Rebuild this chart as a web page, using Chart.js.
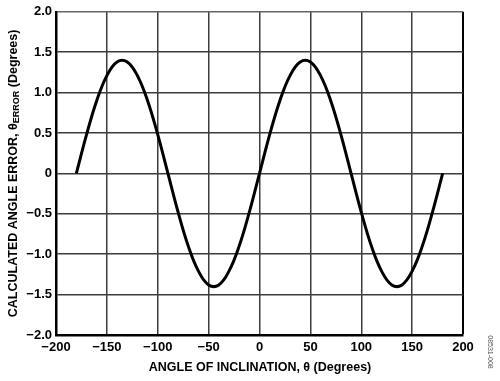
<!DOCTYPE html>
<html>
<head>
<meta charset="utf-8">
<script src="https://cdn.jsdelivr.net/npm/chart.js@4.4.1/dist/chart.umd.min.js"></script>
<style>
  html, body { margin: 0; padding: 0; background: #fff; }
  #wrap { width: 500px; height: 381px; position: relative; }
</style>
</head>
<body>
<div id="wrap"><canvas id="chart" width="500" height="381"></canvas></div>
<script>
// angle of inclination (degrees) and the calculated angle error
const angles = [-180, -170, -160, -150, -140, -130, -120, -110, -100, -90,
                -80, -70, -60, -50, -40, -30, -20, -10, 0,
                10, 20, 30, 40, 50, 60, 70, 80, 90,
                100, 110, 120, 130, 140, 150, 160, 170, 180];
const errors = [0, 0.48, 0.90, 1.21, 1.38, 1.38, 1.21, 0.90, 0.48, 0,
                -0.48, -0.90, -1.21, -1.38, -1.38, -1.21, -0.90, -0.48, 0,
                0.48, 0.90, 1.21, 1.38, 1.38, 1.21, 0.90, 0.48, 0,
                -0.48, -0.90, -1.21, -1.38, -1.38, -1.21, -0.90, -0.48, 0];

const xTicks = [-200, -150, -100, -50, 0, 50, 100, 150, 200];
const yTicks = [-2.0, -1.5, -1.0, -0.5, 0, 0.5, 1.0, 1.5, 2.0];

const FONT = '"Liberation Sans", Arial, sans-serif';

function fmt(v, digits) {
    if (v === 0) return '0';
    const s = Math.abs(v).toFixed(digits);
    return v < 0 ? '\u2212' + s : s;
}

// axis titles, subscript in y title and the figure number
const titles = {
    id: 'titles',
    afterDraw(chart) {
        const ctx = chart.ctx;
        const area = chart.chartArea;
        ctx.save();
        ctx.fillStyle = '#000';
        ctx.textBaseline = 'middle';

        // x title
        ctx.font = 'bold 12.5px ' + FONT;
        ctx.textAlign = 'center';
        ctx.fillText('ANGLE OF INCLINATION, \u03B8 (Degrees)', 260, 368);

        // y title with subscript
        const big = 'bold 12.5px ' + FONT;
        const small = 'bold 9px ' + FONT;
        const parts = [
            ['CALCULATED ANGLE ERROR, \u03B8', big, 0],
            ['ERROR', small, 3],
            [' (Degrees)', big, 0]
        ];
        let total = 0;
        parts.forEach(p => { ctx.font = p[1]; total += ctx.measureText(p[0]).width; });
        ctx.translate(14, (area.top + area.bottom) / 2);
        ctx.rotate(-Math.PI / 2);
        ctx.textAlign = 'left';
        let x = -total / 2;
        parts.forEach(p => {
            ctx.font = p[1];
            ctx.fillText(p[0], x, p[2]);
            x += ctx.measureText(p[0]).width;
        });
        ctx.restore();

        // tiny figure code on the right edge
        ctx.save();
        ctx.fillStyle = '#555';
        ctx.font = '7px ' + FONT;
        ctx.translate(490, 352);
        ctx.rotate(Math.PI / 2);
        ctx.textAlign = 'center';
        ctx.textBaseline = 'middle';
        ctx.fillText('08531-008', 0, 0);
        ctx.restore();
    }
};

new Chart(document.getElementById('chart').getContext('2d'), {
    type: 'line',
    data: {
        datasets: [{
            data: angles.map((a, i) => ({ x: a, y: errors[i] })),
            borderColor: '#000',
            borderWidth: 3,
            pointRadius: 0,
            tension: 0.4,
            fill: false
        }]
    },
    options: {
        responsive: false,
        animation: false,
        layout: { padding: { top: 8, right: 37, left: 0, bottom: 0 } },
        plugins: { legend: { display: false }, tooltip: { enabled: false } },
        scales: {
            x: {
                type: 'linear',
                min: -200,
                max: 200,
                afterBuildTicks: s => { s.ticks = xTicks.map(v => ({ value: v })); },
                afterFit: s => { s.height = 46; },
                ticks: {
                    color: '#000',
                    padding: 5,
                    font: { family: FONT, size: 13, weight: 'bold' },
                    callback: v => fmt(v, 0)
                },
                grid: {
                    drawTicks: false,
                    color: c => c.tick && c.tick.value === 200 ? '#000' : '#3c3c3c',
                    lineWidth: c => c.tick && c.tick.value === 200 ? 2 : 1.5
                },
                border: { color: '#000', width: 2.5 }
            },
            y: {
                min: -2,
                max: 2,
                afterBuildTicks: s => { s.ticks = yTicks.map(v => ({ value: v })); },
                afterFit: s => { s.width = 56; },
                ticks: {
                    color: '#000',
                    padding: 4,
                    font: { family: FONT, size: 13, weight: 'bold' },
                    callback: v => fmt(v, 1)
                },
                grid: {
                    drawTicks: false,
                    color: c => c.tick && c.tick.value === 2 ? '#666' : '#3c3c3c',
                    lineWidth: 1.5
                },
                border: { color: '#000', width: 2.5 }
            }
        }
    },
    plugins: [titles]
});
</script>
</body>
</html>
